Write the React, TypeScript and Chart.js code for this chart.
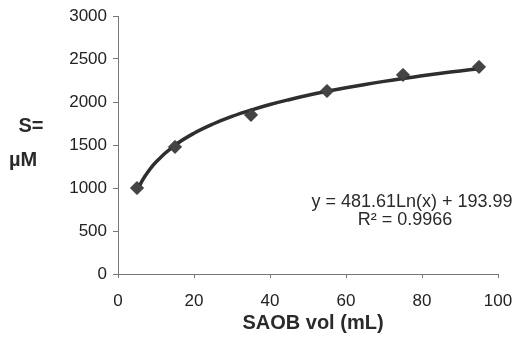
import React, { useEffect, useRef } from "react";
import { Chart, registerables } from "chart.js";

Chart.register(...registerables);

// Measured points (SAOB volume, mL) -> S (µM)
const sampleVolumes = [5, 15, 35, 55, 75, 95];
const sampleS = [1000, 1478, 1850, 2128, 2315, 2408];

// Logarithmic trend line
const trendVolumes = [5, 7, 10, 15, 20, 25, 30, 35, 40, 45, 50, 55, 60, 65, 70, 75, 80, 85, 90, 95];
const trendS = [969, 1131, 1303, 1498, 1637, 1744, 1832, 1906, 1971, 2027, 2078, 2124, 2166, 2204, 2240, 2273, 2304, 2334, 2361, 2387];

const xTicks = [0, 20, 40, 60, 80, 100];
const yTicks = [0, 500, 1000, 1500, 2000, 2500, 3000];

const xTitle = "SAOB vol (mL)";
const yTitleLines = ["S=", "µM"];
const equationText = "y = 481.61Ln(x) + 193.99";
const r2Text = "R\u00B2 = 0.9966";

const FONT = "'Liberation Sans', Arial, Helvetica, sans-serif";

export default function App() {
  const ref = useRef<HTMLCanvasElement | null>(null);

  useEffect(() => {
    const canvas = ref.current;
    if (!canvas) return;

    const textPlugin = {
      id: "annotText",
      afterDraw(chart: any) {
        const ctx = chart.ctx;
        ctx.save();
        ctx.fillStyle = "#2a2a2a";
        ctx.textBaseline = "middle";
        ctx.font = `bold 20px ${FONT}`;
        ctx.textAlign = "center";
        ctx.fillText(yTitleLines[0], 31, 126);
        ctx.fillText(yTitleLines[1], 23, 160);
        ctx.fillText(xTitle, 313, 323);
        ctx.font = `18px ${FONT}`;
        ctx.fillText(equationText, 412, 202);
        ctx.fillText(r2Text, 405, 220);
        ctx.restore();
      },
    };

    const chart = new Chart(canvas, {
      type: "scatter",
      data: {
        datasets: [
          {
            label: "trend",
            data: trendVolumes.map((x, i) => ({ x, y: trendS[i] })),
            showLine: true,
            borderColor: "#2e2e2e",
            borderWidth: 3.5,
            pointRadius: 0,
            tension: 0.4,
            order: 2,
          },
          {
            label: "S",
            data: sampleVolumes.map((x, i) => ({ x, y: sampleS[i] })),
            showLine: false,
            pointStyle: "rectRot",
            pointRadius: 6.5,
            backgroundColor: "#444444",
            borderColor: "#333333",
            borderWidth: 1,
            order: 1,
          },
        ],
      },
      options: {
        responsive: false,
        animation: false,
        devicePixelRatio: 1,
        layout: { padding: { left: 0, top: 16, right: 20, bottom: 0 } },
        plugins: {
          legend: { display: false },
          tooltip: { enabled: false },
        },
        scales: {
          x: {
            type: "linear",
            min: 0,
            max: 100,
            afterBuildTicks: (s: any) => {
              s.ticks = xTicks.map((v) => ({ value: v }));
            },
            afterFit: (s: any) => {
              s.height = 67;
              s.paddingLeft = 0;
              s.paddingRight = 0;
            },
            grid: {
              display: true,
              drawOnChartArea: false,
              drawTicks: true,
              tickLength: 4,
              color: "#777777",
            },
            border: { display: true, color: "#777777", width: 1 },
            ticks: {
              color: "#222222",
              font: { family: FONT, size: 17 },
              padding: 13,
              maxRotation: 0,
              callback: (v: any) => String(v),
            },
          },
          y: {
            type: "linear",
            min: 0,
            max: 3000,
            afterBuildTicks: (s: any) => {
              s.ticks = yTicks.map((v) => ({ value: v }));
            },
            afterFit: (s: any) => {
              s.width = 118;
              s.paddingTop = 0;
              s.paddingBottom = 0;
            },
            grid: {
              display: true,
              drawOnChartArea: false,
              drawTicks: true,
              tickLength: 5,
              color: "#777777",
            },
            border: { display: true, color: "#777777", width: 1 },
            ticks: {
              color: "#222222",
              font: { family: FONT, size: 17 },
              padding: 6,
              callback: (v: any) => String(v),
            },
          },
        },
      },
      plugins: [textPlugin],
    });

    return () => chart.destroy();
  }, []);

  return (
    <div style={{ position: "absolute", left: 0, top: 0, width: 518, height: 341, background: "#ffffff" }}>
      <canvas ref={ref} width={518} height={341} style={{ width: 518, height: 341, display: "block" }} />
    </div>
  );
}
